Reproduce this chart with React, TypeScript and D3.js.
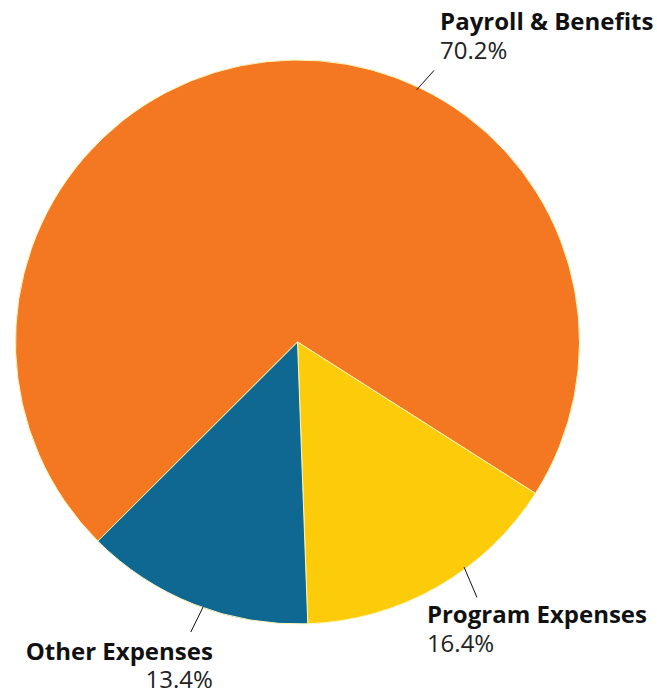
import React, { useEffect, useRef } from "react";
import * as d3 from "d3";

// ---- data ----
const categories = ["Payroll & Benefits", "Program Expenses", "Other Expenses"];
// slice sizes as drawn in the picture
const sliceShares = [71.5, 15.4, 13.1];
// labels as printed
const percentLabels = ["70.2%", "16.4%", "13.4%"];
const sliceColors = ["#F47721", "#FCCB0A", "#0E6892"];

// ---- layout ----
const W = 657;
const H = 692;
const CX = 297.5;
const CY = 342;
const R = 282;
const START_DEG = 225.07;

type LabelLayout = {
  a0: number; // connector start angle (deg)
  a1: number; // connector end angle (deg)
  r0: number;
  r1: number;
  dx: number;
  dy: number;
  lh: number;
  anchor: "start" | "end";
};
const labelLayout: LabelLayout[] = [
  { a0: 25.3, a1: 26.7, r0: 279, r1: 304, dx: 6, dy: -40.5, lh: 29.5, anchor: "start" },
  { a0: 143.5, a1: 144.9, r0: 280, r1: 312, dx: -50, dy: 25.5, lh: 29, anchor: "start" },
  { a0: 199.6, a1: 200.2, r0: 281, r1: 309, dx: 22, dy: 28.3, lh: 28, anchor: "end" },
];

export default function App() {
  const ref = useRef<SVGSVGElement | null>(null);

  useEffect(() => {
    document.body.style.margin = "0";
    const svg = d3.select(ref.current);
    svg.selectAll("*").remove();

    const rad = (d: number) => (d * Math.PI) / 180;
    const pie = d3
      .pie<number>()
      .sort(null)
      .value((d) => d)
      .startAngle(rad(START_DEG))
      .endAngle(rad(START_DEG) + Math.PI * 2);
    const arcs = pie(sliceShares);
    const arc = d3.arc<d3.PieArcDatum<number>>().innerRadius(0).outerRadius(R);

    const g = svg.append("g").attr("transform", `translate(${CX},${CY})`);
    g.selectAll("path.slice")
      .data(arcs)
      .join("path")
      .attr("class", "slice")
      .attr("d", arc)
      .attr("fill", (_, i) => sliceColors[i])
      .attr("stroke", "#fff6b8")
      .attr("stroke-width", 1)
      .attr("stroke-linejoin", "round");

    labelLayout.forEach((L, i) => {
      const p0 = d3.pointRadial(rad(L.a0), L.r0);
      const p1 = d3.pointRadial(rad(L.a1), L.r1);
      g.append("line")
        .attr("x1", p0[0])
        .attr("y1", p0[1])
        .attr("x2", p1[0])
        .attr("y2", p1[1])
        .attr("stroke", "#111")
        .attr("stroke-width", 1);
      const t = g
        .append("text")
        .attr("x", p1[0] + L.dx)
        .attr("y", p1[1] + L.dy)
        .attr("text-anchor", L.anchor)
        .attr("font-family", "'Open Sans', sans-serif")
        .attr("font-size", 24)
        .attr("fill", "#111");
      t.append("tspan")
        .attr("x", p1[0] + L.dx)
        .attr("font-weight", 700)
        .text(categories[i]);
      t.append("tspan")
        .attr("x", p1[0] + L.dx)
        .attr("dy", L.lh)
        .attr("font-weight", 400)
        .attr("fill", "#222")
        .text(percentLabels[i]);
    });
  }, []);

  return (
    <svg
      ref={ref}
      width={W}
      height={H}
      viewBox={`0 0 ${W} ${H}`}
      style={{ display: "block", background: "#fff" }}
    />
  );
}
